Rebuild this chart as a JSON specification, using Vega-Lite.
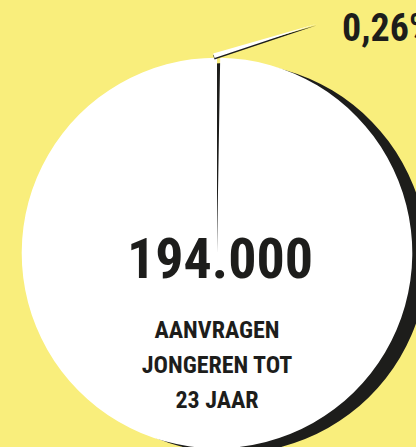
{
  "$schema": "https://vega.github.io/schema/vega-lite/v6.json",
  "width": 398,
  "height": 388,
  "autosize": "none",
  "padding": {"left": 18, "top": 59, "right": 0, "bottom": 0},
  "background": "#f9ee7c",
  "config": {"view": {"stroke": null}},
  "datasets": {
    "aandeel": [
      {"groep": "overige aanvragen", "aandeel": 99.74},
      {"groep": "jongeren tot 23 jaar", "aandeel": 0.26}
    ],
    "kop": [{"tekst": "194.000"}],
    "onderschrift": [{"tekst": "AANVRAGEN\nJONGEREN TOT\n23 JAAR"}],
    "label": [{"tekst": "0,26%"}]
  },
  "resolve": {"scale": {"theta": "independent", "color": "independent"}},
  "layer": [
    {
      "data": {"name": "aandeel"},
      "mark": {"type": "arc", "outerRadius": 195.3, "color": "#1d1d1b", "x": {"expr": "width/2+15"}, "y": {"expr": "height/2+5"}},
      "encoding": {
        "theta": {"field": "aandeel", "type": "quantitative", "stack": true},
        "order": {"field": "aandeel", "sort": "ascending"}
      }
    },
    {
      "data": {"name": "aandeel"},
      "mark": {"type": "arc", "outerRadius": 195.3},
      "encoding": {
        "theta": {"field": "aandeel", "type": "quantitative", "stack": true},
        "order": {"field": "aandeel", "sort": "ascending"},
        "color": {"field": "groep", "type": "nominal", "legend": null,
          "scale": {"domain": ["overige aanvragen", "jongeren tot 23 jaar"], "range": ["#ffffff", "rgba(0,0,0,0)"]}}
      }
    },
    {
      "data": {"name": "aandeel"},
      "transform": [{"filter": "datum.groep === 'jongeren tot 23 jaar'"}],
      "mark": {"type": "arc", "outerRadius": 108, "color": "#1d1d1b", "x": {"expr": "width/2+100"}, "y": {"expr": "height/2-227.8"}},
      "encoding": {
        "theta": {"field": "aandeel", "type": "quantitative", "stack": true,
          "scale": {"domain": [0, 100], "range": [4.3895, 21.353]}}
      }
    },
    {
      "data": {"name": "aandeel"},
      "transform": [{"filter": "datum.groep === 'jongeren tot 23 jaar'"}],
      "mark": {"type": "arc", "outerRadius": 108, "color": "#ffffff", "x": {"expr": "width/2+100"}, "y": {"expr": "height/2-229.3"}},
      "encoding": {
        "theta": {"field": "aandeel", "type": "quantitative", "stack": true,
          "scale": {"domain": [0, 100], "range": [4.3895, 21.353]}}
      }
    },
    {
      "data": {"name": "kop"},
      "mark": {"type": "text", "font": "Roboto Condensed, Liberation Sans, sans-serif", "fontWeight": "bold", "fontSize": 56, "color": "#1d1d1b", "align": "center", "baseline": "alphabetic", "dx": 3, "dy": 25},
      "encoding": {"text": {"field": "tekst", "type": "nominal"}}
    },
    {
      "data": {"name": "onderschrift"},
      "mark": {"type": "text", "font": "Roboto Condensed, Liberation Sans, sans-serif", "fontWeight": "bold", "fontSize": 24, "lineHeight": 35, "lineBreak": "\n", "color": "#1d1d1b", "align": "center", "baseline": "alphabetic", "dx": 0, "dy": 85},
      "encoding": {"text": {"field": "tekst", "type": "nominal"}}
    },
    {
      "data": {"name": "label"},
      "mark": {"type": "text", "font": "Roboto Condensed, Liberation Sans, sans-serif", "fontWeight": "bold", "fontSize": 38, "color": "#1d1d1b", "align": "left", "baseline": "alphabetic", "x": {"expr": "width/2+125"}, "y": {"expr": "height/2-212"}},
      "encoding": {"text": {"field": "tekst", "type": "nominal"}}
    }
  ]
}
